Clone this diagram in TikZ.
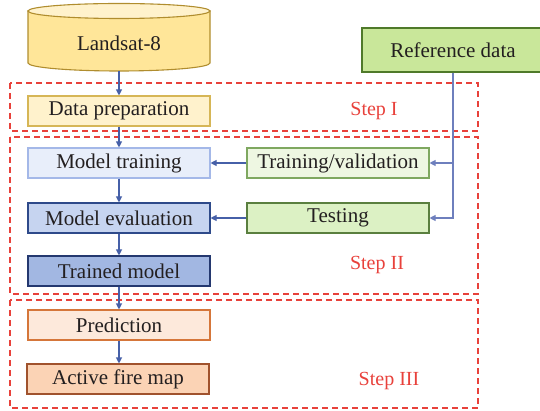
\documentclass[tikz,border=0pt]{standalone}
\usepackage{fontspec}
\setmainfont{Liberation Serif}
\usetikzlibrary{arrows.meta}

\definecolor{inkc}{HTML}{231F20}
\definecolor{stepred}{HTML}{E8413B}
\definecolor{flow}{HTML}{4660A8}
\definecolor{reflow}{HTML}{6E7FBD}
\definecolor{cylbody}{HTML}{FFE699}
\definecolor{cyltop}{HTML}{FFF2CC}
\definecolor{cylline}{HTML}{B08D2E}
\definecolor{prepfill}{HTML}{FFF2CC}
\definecolor{prepline}{HTML}{D6B656}
\definecolor{reffill}{HTML}{C9E79A}
\definecolor{refline}{HTML}{4F7A2A}
\definecolor{tvfill}{HTML}{EEF7E2}
\definecolor{tvline}{HTML}{7FA860}
\definecolor{testfill}{HTML}{DCF1C4}
\definecolor{testline}{HTML}{5A7F3F}
\definecolor{mtfill}{HTML}{E8EEFA}
\definecolor{mtline}{HTML}{A4B8E8}
\definecolor{mefill}{HTML}{C6D4F0}
\definecolor{meline}{HTML}{2E4A8A}
\definecolor{tmfill}{HTML}{A2B7E2}
\definecolor{tmline}{HTML}{24386F}
\definecolor{prfill}{HTML}{FDE9DB}
\definecolor{prline}{HTML}{D5763A}
\definecolor{afill}{HTML}{FBD3B5}
\definecolor{aline}{HTML}{A0522D}

\tikzset{
  txt/.style={font=\fontsize{21}{24}\selectfont, text=inkc},
  procbox/.style={txt, draw, line width=1.1pt, minimum width=182pt,
    minimum height=30pt, inner sep=0pt},
  stepframe/.style={draw=stepred, line width=1.1pt, dash pattern=on 6pt off 4pt},
  steplabel/.style={font=\fontsize{20}{24}\selectfont, text=stepred},
  conn/.style={draw=flow, line width=1.1pt, -{Triangle[length=6pt,width=6pt]}},
  refconn/.style={draw=reflow, line width=1.1pt, -{Triangle[length=6pt,width=6pt]}},
}

\begin{document}
\begin{tikzpicture}[x=1pt, y=-1pt]
\useasboundingbox (0,0) rectangle (540,411);

% dashed step frames
\draw[stepframe] (10,83) rectangle (478,131);
\draw[stepframe] (10,137) rectangle (478,294);
\draw[stepframe] (10,300) rectangle (478,408);
\node[steplabel] (s1) at (374,111) {Step I};
\node[steplabel] (s2) at (377,265) {Step II};
\node[steplabel] (s3) at (389,381) {Step III};

% Landsat-8 cylinder
\path[fill=cylbody, draw=cylline, line width=1.1pt]
  (28,11) -- (28,63) arc[start angle=180, end angle=360, x radius=91pt, y radius=8pt]
  -- (210,11) -- cycle;
\draw[fill=cyltop, draw=cylline, line width=1.1pt] (119,11) ellipse[x radius=91pt, y radius=7.5pt];
\node[txt] (land) at (119,43) {Landsat-8};
\coordinate (landbot) at (119,71);

% process boxes
\node[procbox, fill=prepfill, draw=prepline] (prep) at (119,111) {Data preparation};
\node[procbox, fill=mtfill, draw=mtline] (train) at (119,163) {Model training};
\node[procbox, fill=mefill, draw=meline] (eval) at (119,218) {Model evaluation};
\node[procbox, fill=tmfill, draw=tmline] (trained) at (119,271) {Trained model};
\node[procbox, fill=prfill, draw=prline] (pred) at (119,325) {Prediction};
\node[procbox, fill=afill, draw=aline] (fire) at (118,379) {Active fire map};

% reference data branch
\node[procbox, fill=reffill, draw=refline, minimum height=44pt] (ref) at (453,50) {Reference data};
\node[procbox, fill=tvfill, draw=tvline] (trval) at (338,163) {Training/validation};
\node[procbox, fill=testfill, draw=testline] (test) at (338,218) {Testing};

% main flow
\draw[conn] (landbot) -- (prep.north);
\draw[conn] (prep) -- (train);
\draw[conn] (train) -- (eval);
\draw[conn] (eval) -- (trained);
\draw[conn] (trained) -- (pred);
\draw[conn] (pred) -- (fire.north -| pred.south);

% reference data feeds
\draw[refconn] (ref.south) |- (trval.east);
\draw[refconn] (ref.south) |- (test.east);
\draw[conn] (trval) -- (train);
\draw[conn] (test) -- (eval);
\end{tikzpicture}
\end{document}
